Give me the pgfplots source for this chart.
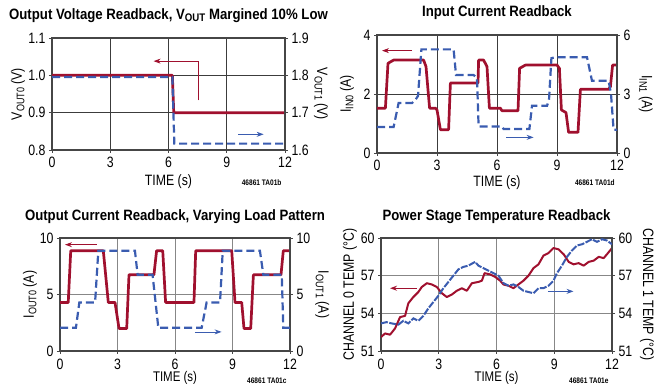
\documentclass[border=0pt]{standalone}
\usepackage{fontspec}
\setmainfont{Liberation Sans}[FakeStretch=0.82]
\newfontfamily\titlefam{Liberation Sans}[FakeStretch=0.88]
\usepackage{pgfplots}
\pgfplotsset{compat=1.18}
\usetikzlibrary{arrows.meta}
\definecolor{myred}{RGB}{160,16,46}
\definecolor{myblue}{RGB}{58,92,176}
\definecolor{axgray}{RGB}{70,70,70}
\definecolor{gridA}{RGB}{60,60,60}
\definecolor{gridB}{RGB}{135,135,135}
\newcommand\tl{\fontsize{15}{15}\selectfont}
\newcommand\tlb{\fontsize{14}{14}\selectfont}
\newcommand\ttl{\titlefam\fontsize{15}{15}\selectfont\bfseries}
\newcommand\fn{\fontsize{8}{8}\selectfont\bfseries}
\newcommand\sub[1]{\raisebox{-2.5pt}{\fontsize{11}{11}\selectfont #1}}
\newcommand\tsub[1]{\raisebox{-2.5pt}{\fontsize{11}{11}\selectfont\bfseries #1}}

\tikzset{
  rarrow/.style={draw=myred, line width=0.8pt, -{Stealth[length=7pt,width=5pt]}},
  barrow/.style={draw=myblue, line width=0.8pt, -{Stealth[length=7pt,width=5pt]}},
  redline/.style={draw=myred, line width=2.7pt, line join=round},
  blueline/.style={draw=myblue, line width=2.2pt, dash pattern=on 8pt off 4pt},
}
\pgfplotsset{
  common/.style={scale only axis, xmin=0, xmax=12, xtick={0,3,6,9,12},
    clip mode=individual,
    tick align=outside, major tick length=3pt,
    tick style={draw=axgray, line width=0.8pt},
    axis line style={draw=axgray, line width=1.1pt},
    ticklabel style={font=\tl},
    xticklabel style={inner sep=1pt, yshift=-3pt},
    /pgf/number format/assume math mode=true,
    label style={font=\tl},
    title style={font=\ttl},
  },
  leftax/.style={common, xtick pos=bottom, ytick pos=left, grid=major},
  rightax/.style={common, axis y line*=right, axis x line=none, ytick pos=right},
  bottomrow/.style={xticklabel style={inner sep=1pt, yshift=-1pt},
    xlabel style={font=\tlb, at={(axis description cs:0.5,-0.274)}, anchor=base, inner sep=0pt}},
}

\begin{document}
\begin{tikzpicture}
\useasboundingbox (0,0) rectangle (669pt,385pt);

% ---------------- Panel 1 ----------------
\begin{axis}[leftax, at={(52pt,235pt)}, anchor=south west, width=233pt, height=112pt,
  ymin=0.8, ymax=1.1, ytick={0.8,0.9,1.0,1.1},
  yticklabel style={/pgf/number format/.cd, fixed, fixed zerofill, precision=1},
  major grid style={draw=gridA, line width=0.8pt},
  title={Output Voltage Readback, V\tsub{OUT} Margined 10\% Low},
  title style={at={(axis description cs:0.5,1.116)}, anchor=base},
  xlabel={TIME (s)}, xlabel style={at={(axis description cs:0.5,-0.286)}, anchor=center, inner sep=0pt},
  ylabel={V\sub{OUT0} (V)}, ylabel style={at={(axis description cs:-0.146,0.5)}, anchor=center}]
\addplot[redline] coordinates {(0,1.0) (6.2,1.0) (6.27,0.9) (12,0.9)};
\draw[rarrow] (axis cs:7.54,0.933) -- (axis cs:7.54,1.038) -- (axis cs:5.23,1.038);
\draw[barrow] (axis cs:9.6,0.842) -- (axis cs:10.9,0.842);
\node[font=\fn, anchor=east] at (axis description cs:1.0,-0.295) {46861 TA01b};
\end{axis}
\begin{axis}[rightax, at={(52pt,235pt)}, anchor=south west, width=233pt, height=112pt,
  ymin=1.6, ymax=1.9, ytick={1.6,1.7,1.8,1.9},
  yticklabel style={/pgf/number format/.cd, fixed, fixed zerofill, precision=1},
  ylabel={V\sub{OUT1} (V)}, ylabel style={at={(axis description cs:1.155,0.5)}, anchor=center, rotate=180}]
\addplot[blueline] coordinates {(0,1.7957) (6.2,1.7957) (6.3,1.617) (12,1.617)};
\end{axis}

% ---------------- Panel 2 ----------------
\begin{axis}[leftax, at={(377pt,232pt)}, anchor=south west, width=240pt, height=118pt,
  ymin=0, ymax=4, ytick={0,2,4},
  major grid style={draw=gridA, line width=0.8pt},
  title={Input Current Readback},
  title style={at={(axis description cs:0.5,1.106)}, anchor=base},
  xlabel={TIME (s)}, xlabel style={at={(axis description cs:0.5,-0.254)}, anchor=center, inner sep=0pt},
  ylabel={I\sub{IN0} (A)}, ylabel style={at={(axis description cs:-0.125,0.5)}, anchor=center}]
\addplot[redline] coordinates {(0,1.52) (0.42,1.52) (0.55,3.04) (0.83,3.15) (2.33,3.15) (2.45,2.93)
 (2.55,2.14) (2.63,1.52) (2.92,1.52) (3.0,1.46) (3.17,0.79) (3.58,0.79) (3.67,2.37) (5.05,2.37)
 (5.08,3.15) (5.33,3.15) (5.5,2.93) (5.62,1.52) (6.17,1.52) (6.25,1.43) (7.05,1.43) (7.13,2.87)
 (7.42,2.98) (9.0,2.98) (9.12,2.87) (9.22,1.46) (9.45,1.37) (9.58,0.70) (10.05,0.70) (10.17,2.16)
 (11.58,2.16) (11.67,2.25) (11.78,2.98) (12,2.98)};
\draw[rarrow] (axis cs:1.75,3.47) -- (axis cs:0.25,3.47);
\draw[barrow] (axis cs:6.47,0.53) -- (axis cs:7.83,0.53);
\node[font=\fn, anchor=east] at (axis description cs:1.005,-0.254) {46861 TA01d};
\end{axis}
\begin{axis}[rightax, at={(377pt,232pt)}, anchor=south west, width=240pt, height=118pt,
  ymin=0, ymax=6, ytick={0,3,6},
  ylabel={I\sub{IN1} (A)}, ylabel style={at={(axis description cs:1.12,0.5)}, anchor=center, rotate=180}]
\addplot[blueline] coordinates {(0,1.32) (0.83,1.32) (1.08,2.54) (1.75,2.54) (1.92,2.70) (2.05,2.9)
 (2.22,5.27) (3.83,5.27) (3.95,3.97) (4.83,3.97) (5.0,3.8) (5.08,1.35) (6.25,1.35) (6.33,1.22)
 (7.62,1.22) (7.75,2.40) (8.5,2.40) (8.6,2.7) (8.72,4.82) (8.92,4.87) (10.5,4.87) (10.75,3.67)
 (11.58,3.67) (11.7,3.0) (11.83,1.18) (12,1.18)};
\end{axis}

% ---------------- Panel 3 ----------------
\begin{axis}[leftax, bottomrow, at={(60pt,34pt)}, anchor=south west, width=230pt, height=113pt,
  ymin=0, ymax=10, ytick={0,5,10},
  major grid style={draw=gridB, line width=0.9pt},
  title={Output Current Readback, Varying Load Pattern},
  title style={at={(axis description cs:0.5,1.106)}, anchor=base},
  xlabel={TIME (s)},
  ylabel={I\sub{OUT0} (A)}, ylabel style={at={(axis description cs:-0.13,0.5)}, anchor=center}]
\addplot[redline] coordinates {(0,4.3) (0.43,4.3) (0.56,8.87) (2.26,8.87) (2.52,4.3) (2.87,4.3)
 (3.08,1.99) (3.48,1.99) (3.6,6.74) (4.9,6.74) (5.04,8.87) (5.36,8.87) (5.51,4.3) (6.99,4.3)
 (7.08,8.87) (8.96,8.87) (9.13,4.3) (9.48,4.3) (9.6,1.99) (9.95,1.99) (10.09,6.74) (11.53,6.74)
 (11.65,8.87) (12,8.87)};
\draw[rarrow] (axis cs:1.91,9.41) -- (axis cs:0.26,9.41);
\draw[barrow] (axis cs:7.04,1.69) -- (axis cs:8.43,1.69);
\node[font=\fn, anchor=east] at (axis description cs:1.0,-0.265) {46861 TA01c};
\end{axis}
\begin{axis}[rightax, at={(60pt,34pt)}, anchor=south west, width=230pt, height=113pt,
  ymin=0, ymax=10, ytick={0,5,10},
  ylabel={I\sub{OUT1} (A)}, ylabel style={at={(axis description cs:1.14,0.5)}, anchor=center, rotate=180}]
\addplot[blueline] coordinates {(0,2.05) (0.83,2.05) (1.01,4.3) (1.83,4.3) (2.0,8.87) (3.91,8.87)
 (4.05,6.74) (4.83,6.74) (5.13,2.05) (7.39,2.05) (7.65,4.3) (8.35,4.3) (8.49,8.87) (10.43,8.87)
 (10.61,6.74) (11.57,6.74) (11.65,2.05) (12,2.05)};
\end{axis}

% ---------------- Panel 4 ----------------
\begin{axis}[leftax, bottomrow, at={(381pt,34pt)}, anchor=south west, width=231pt, height=113pt,
  ymin=51, ymax=60, ytick={51,54,57,60},
  major grid style={draw=gridB, line width=0.9pt},
  title={Power Stage Temperature Readback},
  title style={at={(axis description cs:0.5,1.106)}, anchor=base},
  xlabel={TIME (s)},
  ylabel={CHANNEL 0 TEMP (°C)}, ylabel style={at={(axis description cs:-0.134,0.5)}, anchor=center}]
\addplot[draw=myred, line width=2pt, line join=round] coordinates {
 (0,52.1) (0.21,52.4) (0.47,52.3) (0.73,52.8) (0.99,53.7) (1.25,53.8) (1.42,54.8) (1.68,55.3)
 (1.94,55.7) (2.12,56.1) (2.38,56.4) (2.64,56.3) (2.9,56.1) (3.16,55.6) (3.42,55.3) (3.68,55.5)
 (3.94,55.8) (4.2,56.0) (4.46,55.8) (4.72,56.4) (5.06,56.5) (5.24,56.6) (5.38,57.2) (5.67,57.1)
 (5.93,56.9) (6.19,56.6) (6.36,56.3) (6.62,56.2) (6.88,56.0) (7.14,56.3) (7.4,56.6) (7.66,57.0)
 (7.92,57.6) (8.18,57.9) (8.44,58.6) (8.7,58.8) (8.96,59.2) (9.22,59.1) (9.49,58.7) (9.75,58.1)
 (10.0,57.9) (10.27,58.0) (10.53,57.8) (10.79,58.1) (11.05,58.2) (11.31,58.5) (11.57,58.4)
 (11.79,58.8) (12.0,59.2)};
\draw[rarrow] (axis cs:1.86,56.0) -- (axis cs:0.47,56.0);
\draw[barrow] (axis cs:8.67,55.75) -- (axis cs:10.0,55.75);
\node[font=\fn, anchor=east] at (axis description cs:1.0,-0.265) {46861 TA01e};
\end{axis}
\begin{axis}[rightax, at={(381pt,34pt)}, anchor=south west, width=231pt, height=113pt,
  ymin=51, ymax=60, ytick={51,54,57,60},
  ylabel={CHANNEL 1 TEMP (°C)}, ylabel style={at={(axis description cs:1.152,0.5)}, anchor=center, rotate=180}]
\addplot[draw=myblue, line width=2pt, dash pattern=on 7pt off 1.5pt] coordinates {
 (0,53.2) (0.29,53.3) (0.55,53.2) (0.9,53.1) (1.16,53.4) (1.42,53.2) (1.68,53.6) (1.94,53.4)
 (2.2,53.8) (2.46,54.4) (2.72,54.9) (2.98,55.4) (3.24,56.0) (3.5,56.5) (3.76,57.0) (4.02,57.5)
 (4.28,57.7) (4.54,57.8) (4.89,58.1) (5.06,57.8) (5.32,57.6) (5.58,57.4) (5.84,57.2) (6.1,57.0)
 (6.36,56.4) (6.62,56.2) (6.88,56.3) (7.14,56.1) (7.4,55.8) (7.66,55.7) (7.92,55.6) (8.18,56.0)
 (8.44,56.0) (8.7,56.2) (8.96,56.6) (9.14,57.2) (9.4,57.8) (9.66,58.5) (9.92,59.0) (10.18,59.4)
 (10.44,59.5) (10.7,59.7) (10.96,59.9) (11.22,59.7) (11.48,59.9) (11.74,59.8) (12.0,59.5)};
\end{axis}
\end{tikzpicture}
\end{document}
